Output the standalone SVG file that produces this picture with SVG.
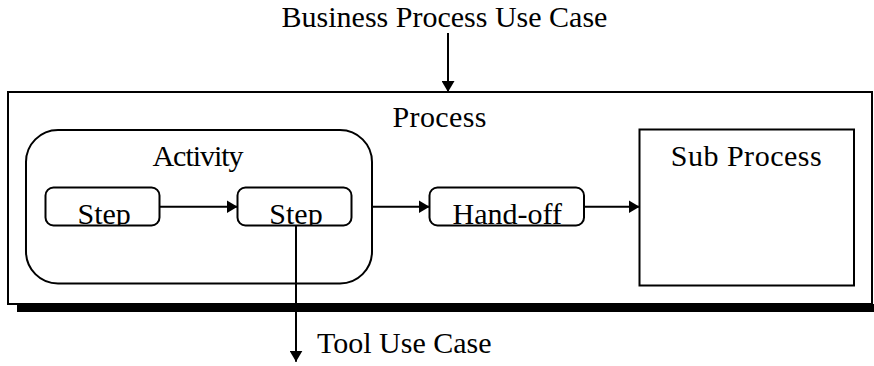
<svg xmlns="http://www.w3.org/2000/svg" width="874" height="366" viewBox="0 0 874 366">
  <style>
    .box { fill: #fff; stroke: #000; stroke-width: 2; }
    .lbl { font-family: "Times New Roman", "Liberation Serif", serif; font-size: 30px; fill: #000; }
    .mid { text-anchor: middle; }
    .conn { fill: none; stroke: #000; stroke-width: 2; marker-end: url(#arrow); }
  </style>
  <defs>
    <marker id="arrow" viewBox="0 0 11 13" refX="11" refY="6.5" markerWidth="11" markerHeight="13" markerUnits="userSpaceOnUse" orient="auto">
      <path d="M0,0 L11,6.5 L0,13 Z" fill="#000"/>
    </marker>
    <clipPath id="clipStep1"><rect x="45.5" y="187.5" width="114" height="38"/></clipPath>
    <clipPath id="clipStep2"><rect x="237.5" y="187.5" width="114" height="38"/></clipPath>
    <clipPath id="clipHand"><rect x="429.5" y="187.5" width="154.5" height="38"/></clipPath>
  </defs>

  <!-- external actors (labels only) -->
  <g id="business-use-case">
    <text class="lbl mid" x="444.5" y="27">Business Process Use Case</text>
  </g>
  <g id="tool-use-case">
    <text class="lbl" x="317" y="353">Tool Use Case</text>
  </g>

  <!-- process container with drop shadow along the bottom -->
  <g id="process">
    <rect x="17" y="304" width="857" height="8" fill="#000"/>
    <rect class="box" x="8" y="92" width="864" height="212"/>
    <text class="lbl mid" x="439.5" y="126.5" textLength="94">Process</text>
  </g>

  <g id="activity">
    <rect class="box" x="26" y="130" width="346" height="153.5" rx="32" ry="32"/>
    <text class="lbl mid" x="198" y="166" textLength="91">Activity</text>
  </g>

  <g id="step-1">
    <rect class="box" x="45.5" y="187.5" width="114" height="38" rx="8" ry="8"/>
    <text class="lbl mid" x="104.2" y="223.5" clip-path="url(#clipStep1)">Step</text>
  </g>

  <g id="step-2">
    <rect class="box" x="237.5" y="187.5" width="114" height="38" rx="8" ry="8"/>
    <text class="lbl mid" x="296" y="223.5" clip-path="url(#clipStep2)">Step</text>
  </g>

  <g id="hand-off">
    <rect class="box" x="429.5" y="187.5" width="154.5" height="38" rx="8" ry="8"/>
    <text class="lbl mid" x="507.2" y="223.5" clip-path="url(#clipHand)">Hand-off</text>
  </g>

  <g id="sub-process">
    <rect class="box" x="639.5" y="129.5" width="214.5" height="156"/>
    <text class="lbl mid" x="746.2" y="166" textLength="151">Sub Process</text>
  </g>

  <!-- connectors -->
  <g id="connectors">
    <path class="conn" d="M448,33 V92"/>
    <path class="conn" d="M159.5,206.7 H237.5"/>
    <path class="conn" d="M372,206.7 H429.5"/>
    <path class="conn" d="M584,206.7 H639.5"/>
    <path class="conn" d="M296,225.5 V361.7"/>
  </g>
</svg>
